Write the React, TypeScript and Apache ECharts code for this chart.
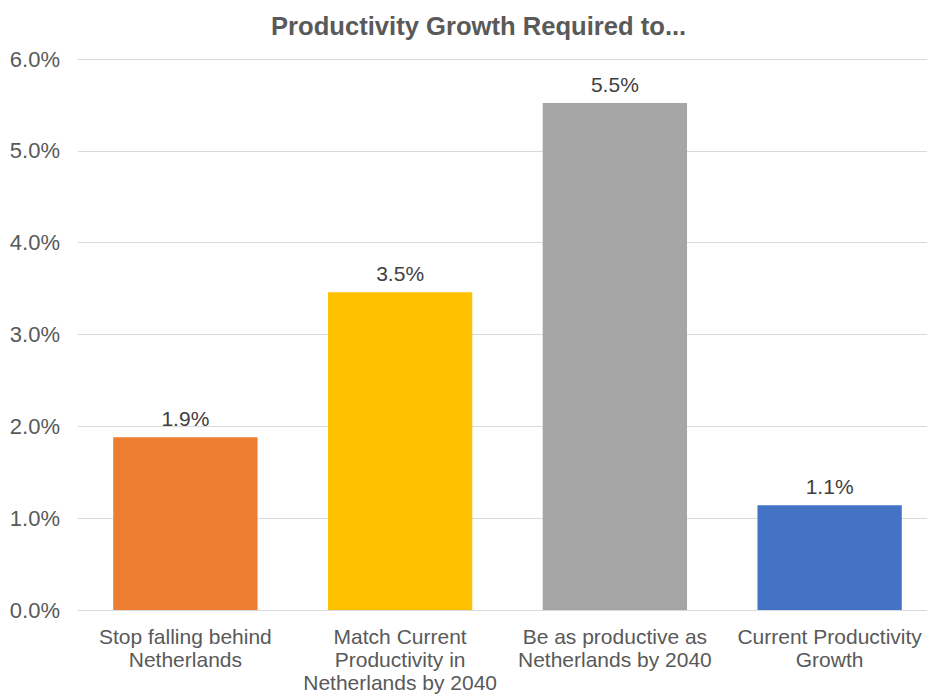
import React, { useEffect, useRef } from "react";
import * as echarts from "echarts";

const categories = [
  "Stop falling behind\nNetherlands",
  "Match Current\nProductivity in\nNetherlands by 2040",
  "Be as productive as\nNetherlands by 2040",
  "Current Productivity\nGrowth",
];
const values = [1.88, 3.46, 5.52, 1.14];
const colors = ["#ED7D31", "#FFC000", "#A5A5A5", "#4472C4"];
const titleText = "Productivity Growth Required to...";

const FONT = "'Liberation Sans', Arial, sans-serif";

export default function App() {
  const ref = useRef<HTMLDivElement>(null);
  useEffect(() => {
    const chart = echarts.init(ref.current!, null, { renderer: "svg" });
    chart.setOption({
      animation: false,
      textStyle: { fontFamily: FONT },
      title: {
        text: titleText,
        left: 266,
        top: 8,
        textStyle: { fontFamily: FONT, fontSize: 25.6, fontWeight: "bold", color: "#595959" },
      },
      grid: { left: 78, width: 859, top: 59, bottom: 88, outerBoundsMode: "none", containLabel: false },
      xAxis: {
        type: "category",
        data: categories,
        axisLine: { lineStyle: { color: "#D9D9D9" } },
        axisTick: { show: false },
        axisLabel: {
          interval: 0,
          color: "#595959",
          fontFamily: FONT,
          fontSize: 21,
          lineHeight: 23,
          margin: 15,
        },
      },
      yAxis: {
        type: "value",
        min: 0,
        max: 6,
        interval: 1,
        axisLabel: {
          formatter: (v: number) => v.toFixed(1) + "%",
          color: "#595959",
          fontFamily: FONT,
          fontSize: 22,
          margin: 18,
        },
        splitLine: { lineStyle: { color: "#D9D9D9" } },
        axisLine: { show: false },
        axisTick: { show: false },
      },
      series: [
        {
          type: "bar",
          barWidth: "67.2%",
          data: values.map((v, i) => ({ value: v, itemStyle: { color: colors[i] } })),
          label: {
            show: true,
            position: "top",
            distance: 8,
            formatter: (p: any) => p.value.toFixed(1) + "%",
            color: "#404040",
            fontFamily: FONT,
            fontSize: 21,
          },
        },
      ],
    });
    return () => chart.dispose();
  }, []);
  return <div ref={ref} style={{ width: 927, height: 698, position: "absolute", left: 0, top: 0 }} />;
}
